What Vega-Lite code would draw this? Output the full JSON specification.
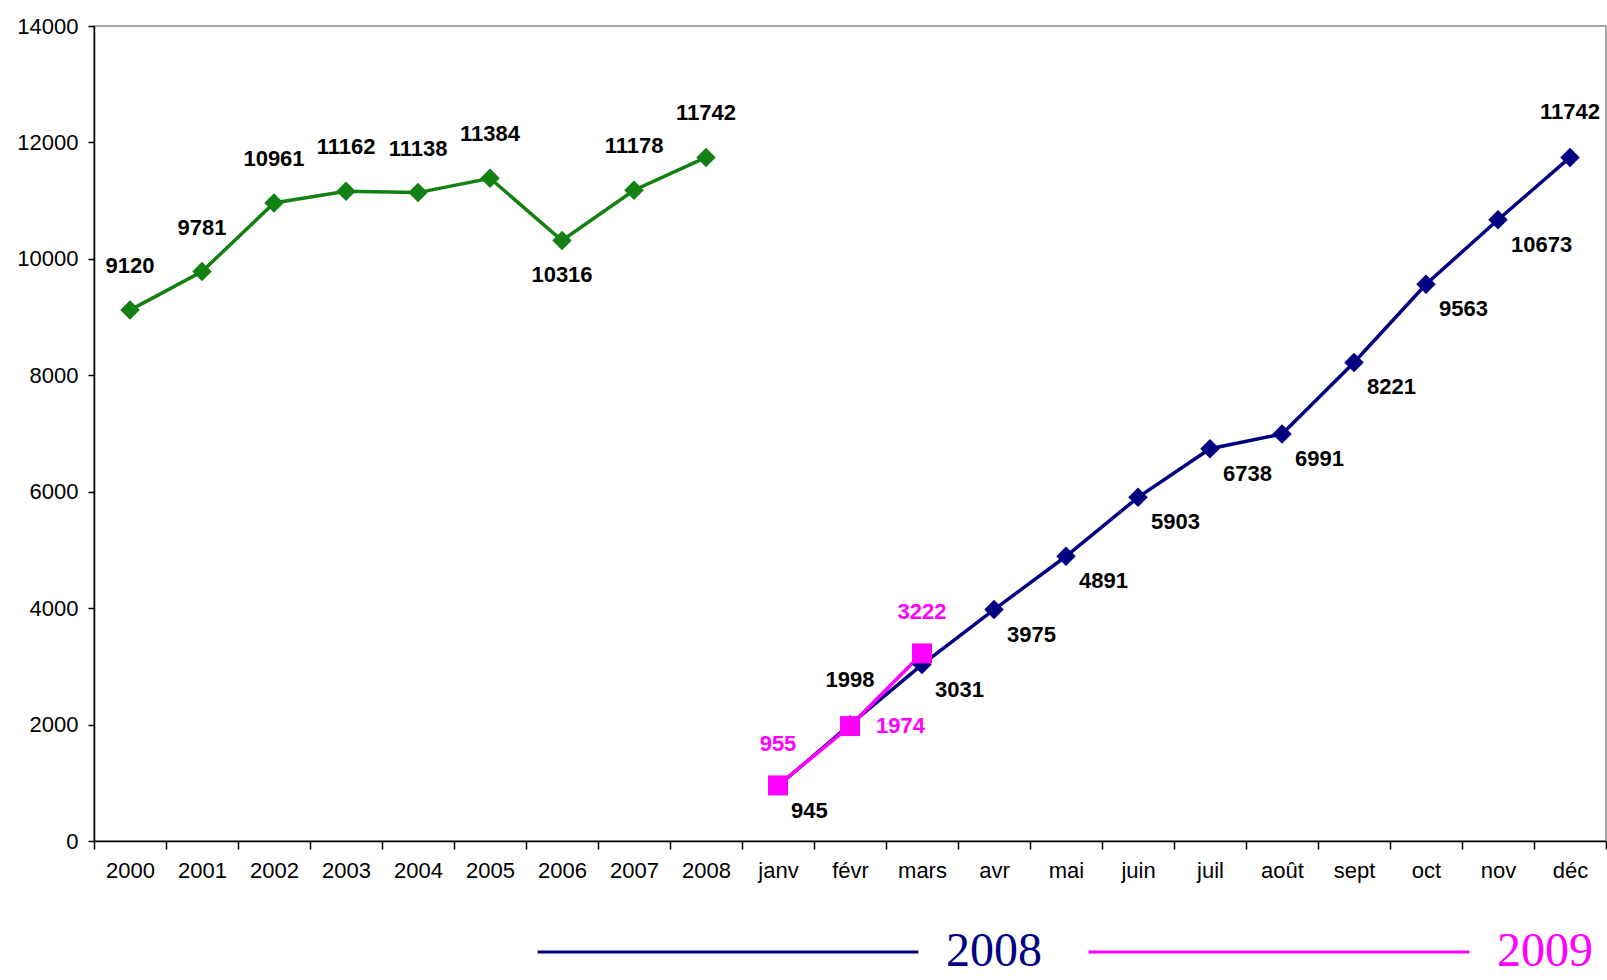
{
  "$schema": "https://vega.github.io/schema/vega-lite/v6.json",
  "width": 1512,
  "height": 815,
  "autosize": {"type": "none"},
  "padding": {"left": 94, "top": 26, "right": 1, "bottom": 139},
  "background": "white",
  "config": {
    "font": "Liberation Sans",
    "view": {"stroke": "#8a8a8a", "strokeWidth": 1.5},
    "axis": {
      "labelFont": "Liberation Sans",
      "labelFontSize": 22,
      "labelColor": "#000000",
      "domainColor": "#000000",
      "domainWidth": 1.5,
      "tickColor": "#000000",
      "tickWidth": 1.5,
      "grid": false,
      "title": null
    }
  },
  "data": {
    "values": [
      {"x": "2000", "serie": "annuel", "v": 9120},
      {"x": "2001", "serie": "annuel", "v": 9781},
      {"x": "2002", "serie": "annuel", "v": 10961},
      {"x": "2003", "serie": "annuel", "v": 11162},
      {"x": "2004", "serie": "annuel", "v": 11138},
      {"x": "2005", "serie": "annuel", "v": 11384},
      {"x": "2006", "serie": "annuel", "v": 10316},
      {"x": "2007", "serie": "annuel", "v": 11178},
      {"x": "2008", "serie": "annuel", "v": 11742},
      {"x": "janv", "serie": "2008", "v": 945},
      {"x": "févr", "serie": "2008", "v": 1998},
      {"x": "mars", "serie": "2008", "v": 3031},
      {"x": "avr", "serie": "2008", "v": 3975},
      {"x": "mai", "serie": "2008", "v": 4891},
      {"x": "juin", "serie": "2008", "v": 5903},
      {"x": "juil", "serie": "2008", "v": 6738},
      {"x": "août", "serie": "2008", "v": 6991},
      {"x": "sept", "serie": "2008", "v": 8221},
      {"x": "oct", "serie": "2008", "v": 9563},
      {"x": "nov", "serie": "2008", "v": 10673},
      {"x": "déc", "serie": "2008", "v": 11742},
      {"x": "janv", "serie": "2009", "v": 955},
      {"x": "févr", "serie": "2009", "v": 1974},
      {"x": "mars", "serie": "2009", "v": 3222}
    ]
  },
  "encoding": {
    "x": {
      "field": "x",
      "type": "nominal",
      "sort": null,
      "scale": {
        "type": "band",
        "paddingInner": 0,
        "paddingOuter": 0,
        "domain": ["2000", "2001", "2002", "2003", "2004", "2005", "2006", "2007", "2008", "janv", "févr", "mars", "avr", "mai", "juin", "juil", "août", "sept", "oct", "nov", "déc"]
      },
      "axis": {"labelAngle": 0, "tickBand": "extent", "tickSize": 8, "labelPadding": 11}
    },
    "y": {
      "field": "v",
      "type": "quantitative",
      "scale": {"domain": [0, 14000], "nice": false, "zero": true},
      "axis": {"values": [0, 2000, 4000, 6000, 8000, 10000, 12000, 14000], "format": "d", "tickSize": 6, "labelPadding": 10}
    }
  },
  "layer": [
    {
      "mark": {"type": "line", "strokeWidth": 3.5},
      "encoding": {
        "color": {
          "field": "serie",
          "type": "nominal",
          "scale": {"domain": ["annuel", "2008", "2009"], "range": ["#128012", "#000080", "#ff00ff"]},
          "legend": {
            "values": ["2008", "2009"],
            "title": null,
            "orient": "none",
            "direction": "horizontal",
            "legendX": 442,
            "legendY": 734,
            "padding": 0,
            "symbolType": "stroke",
            "symbolSize": 145000,
            "symbolStrokeWidth": 3,
            "labelFont": "Liberation Serif",
            "labelFontSize": 48,
            "labelOffset": 26,
            "columnPadding": 40,
            "labelLimit": 400,
            "encode": {
              "labels": {"update": {"fill": {"signal": "datum.value === '2008' ? '#000080' : '#ff00ff'"}}}
            }
          }
        }
      }
    },
    {
      "transform": [{"filter": "datum.serie !== '2009'"}],
      "mark": {"type": "point", "shape": "diamond", "filled": true, "size": 380, "opacity": 1},
      "encoding": {"color": {"field": "serie", "type": "nominal", "legend": null}}
    },
    {
      "transform": [{"filter": "datum.serie === '2009'"}],
      "mark": {"type": "point", "shape": "square", "filled": true, "size": 400, "opacity": 1},
      "encoding": {"color": {"field": "serie", "type": "nominal", "legend": null}}
    },
    {
      "transform": [{"filter": "datum.serie === 'annuel' && datum.x !== '2006'"}],
      "mark": {"type": "text", "fontSize": 22, "fontWeight": "bold", "color": "#000000", "dy": -44},
      "encoding": {"text": {"field": "v", "type": "quantitative", "format": "d"}}
    },
    {
      "transform": [{"filter": "datum.serie === 'annuel' && datum.x === '2006'"}],
      "mark": {"type": "text", "fontSize": 22, "fontWeight": "bold", "color": "#000000", "dy": 35},
      "encoding": {"text": {"field": "v", "type": "quantitative", "format": "d"}}
    },
    {
      "transform": [{"filter": "datum.serie === '2008' && datum.x !== 'févr' && datum.x !== 'déc'"}],
      "mark": {"type": "text", "fontSize": 22, "fontWeight": "bold", "color": "#000000", "align": "left", "dx": 13, "dy": 25},
      "encoding": {"text": {"field": "v", "type": "quantitative", "format": "d"}}
    },
    {
      "transform": [{"filter": "datum.serie === '2008' && (datum.x === 'févr' || datum.x === 'déc')"}],
      "mark": {"type": "text", "fontSize": 22, "fontWeight": "bold", "color": "#000000", "dy": -45},
      "encoding": {"text": {"field": "v", "type": "quantitative", "format": "d"}}
    },
    {
      "transform": [{"filter": "datum.serie === '2009' && datum.x !== 'févr'"}],
      "mark": {"type": "text", "fontSize": 22, "fontWeight": "bold", "color": "#ff00ff", "dy": -41},
      "encoding": {"text": {"field": "v", "type": "quantitative", "format": "d"}}
    },
    {
      "transform": [{"filter": "datum.serie === '2009' && datum.x === 'févr'"}],
      "mark": {"type": "text", "fontSize": 22, "fontWeight": "bold", "color": "#ff00ff", "align": "left", "dx": 26, "dy": 0},
      "encoding": {"text": {"field": "v", "type": "quantitative", "format": "d"}}
    }
  ]
}
